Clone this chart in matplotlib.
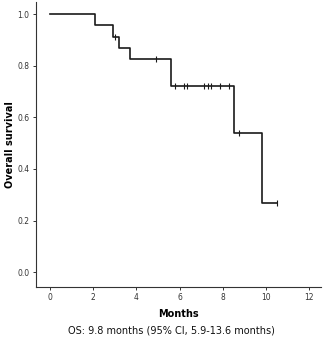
import matplotlib
matplotlib.use("Agg")
import matplotlib.pyplot as plt

# Kaplan-Meier steps
step_times = [0, 2.1, 2.9, 3.2, 3.7, 5.6, 8.5, 9.8, 10.5]
step_surv = [1.0, 0.957, 0.913, 0.870, 0.826, 0.72, 0.54, 0.27, 0.27]

# censored observations
cens_times = [3.0, 4.9, 5.8, 6.2, 6.35, 7.15, 7.3, 7.47, 7.87, 8.3, 8.76, 10.5]
cens_surv = [0.913, 0.826, 0.72, 0.72, 0.72, 0.72, 0.72, 0.72, 0.72, 0.72, 0.54, 0.27]

fig = plt.figure(figsize=(3.23, 3.39), dpi=100)
ax = fig.add_axes([0.111, 0.153, 0.883, 0.841])

ax.step(step_times, step_surv, where="post", color="#1a1a1a", lw=1.2)
ax.plot(cens_times, cens_surv, ls="none", marker="|", ms=5, mew=0.8, color="#1a1a1a")

ax.set_xlim(-0.65, 12.55)
ax.set_ylim(-0.058, 1.047)
ax.set_xticks(range(0, 13, 2))
ax.set_yticks([0.0, 0.2, 0.4, 0.6, 0.8, 1.0])
ax.set_yticklabels(["0.0", "0.2", "0.4", "0.6", "0.8", "1.0"])
for s in ["top", "right"]:
    ax.spines[s].set_visible(False)
for s in ["left", "bottom"]:
    ax.spines[s].set_linewidth(0.8)
    ax.spines[s].set_color("#333333")
ax.tick_params(labelsize=5.5, length=2.5, width=0.7, colors="#333333", pad=2)

ax.set_xlabel("Months", fontsize=7, fontweight="bold", labelpad=5)
ax.set_ylabel("Overall survival", fontsize=7, fontweight="bold", labelpad=2)
fig.text(0.53, 0.015, "OS: 9.8 months (95% CI, 5.9-13.6 months)", ha="center",
         fontsize=7, color="#111111")

fig.savefig("out.png", dpi=100)
